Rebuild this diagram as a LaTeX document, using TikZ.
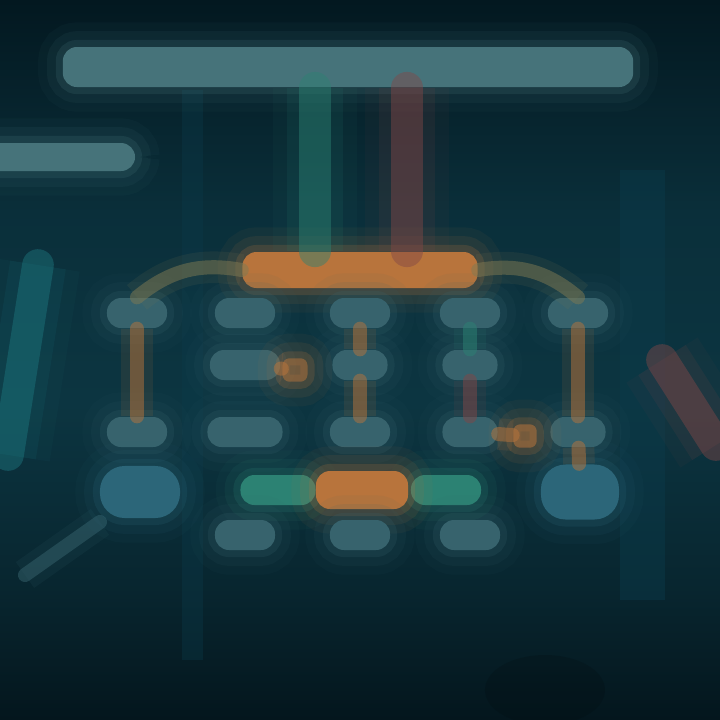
\documentclass[tikz,border=0pt]{standalone}
\usepackage[svgnames]{xcolor}
\usepackage{tikz}
\usetikzlibrary{calc}

\definecolor{bgtop}{HTML}{031820}
\definecolor{bgmid}{HTML}{0C3541}
\definecolor{bgbot}{HTML}{04161D}
\definecolor{titlecol}{HTML}{46737A}
\definecolor{cellcol}{HTML}{37636D}
\definecolor{bigcol}{HTML}{2C6679}
\definecolor{orangecol}{HTML}{B8743C}
\definecolor{greencol}{HTML}{2C8273}
\definecolor{redcol}{HTML}{824747}
\definecolor{tealcol}{HTML}{1D7880}
\definecolor{panelcol}{HTML}{0B3B4B}

\pgfdeclareverticalshading{bgshade}{100bp}{color(0bp)=(bgbot); color(25bp)=(bgbot);
  color(34bp)=(bgbot!50!bgmid); color(47bp)=(bgmid); color(60bp)=(bgmid!80!bgtop);
  color(75bp)=(bgtop); color(100bp)=(bgtop)}

\tikzset{
  glow/.style={fill=#1, draw=none, rounded corners=4pt,
    preaction={draw=#1, line width=14pt, draw opacity=0.06},
    preaction={draw=#1, line width=9pt, draw opacity=0.1},
    preaction={draw=#1, line width=4pt, draw opacity=0.2}},
  cell/.style={glow=cellcol, minimum width=0.6cm, minimum height=0.3cm},
  link/.style={draw=#1, line width=4pt, line cap=round, draw opacity=0.5,
    preaction={draw=#1, line width=9pt, draw opacity=0.12}},
  beam/.style={draw=#1, line width=9pt, line cap=round, draw opacity=0.45,
    preaction={draw=#1, line width=16pt, draw opacity=0.12},
    preaction={draw=#1, line width=24pt, draw opacity=0.06}},
}

\begin{document}
\begin{tikzpicture}[x=0.01cm, y=-0.01cm]
\useasboundingbox (0,0) rectangle (720,720);
\clip (0,0) rectangle (720,720);

% background
\shade[shading=bgshade] (0,0) rectangle (720,720);
\fill[panelcol, opacity=0.45] (620,170) rectangle (665,600);
\fill[panelcol, opacity=0.35] (182,90) rectangle (203,660);
\fill[black!60!bgbot, opacity=0.2] (545,690) ellipse (60 and 35);

% side glows
\coordinate (lt1) at (38,265);
\coordinate (lt2) at (8,455);
\draw[beam=tealcol] (lt1) -- (lt2);
\coordinate (rr1) at (662,360);
\coordinate (rr2) at (716,445);
\draw[beam=redcol] (rr1) -- (rr2);
\coordinate (bl1) at (25,575);
\coordinate (bl2) at (100,522);
\draw[link=cellcol] (bl1) -- (bl2);

% header
\node[glow=titlecol, minimum width=5.7cm, minimum height=0.4cm] (title) at (348,67) {};
\node[glow=titlecol, minimum width=1.6cm, minimum height=0.28cm] (side) at (55,157) {};

% top box
\node[glow=orangecol, minimum width=2.35cm, minimum height=0.36cm] (top) at (360,270) {};
\draw[beam=greencol] (title.south -| 315,0) -- (top.north -| 315,0);
\draw[beam=redcol] (title.south -| 407,0) -- (top.north -| 407,0);

% rows of cells
\node[cell] (c11) at (137,313) {};
\node[cell] (c12) at (245,313) {};
\node[cell] (c13) at (360,313) {};
\node[cell] (c14) at (470,313) {};
\node[cell] (c15) at (578,313) {};

\node[cell, minimum width=0.7cm] (c22) at (245,365) {};
\node[cell, minimum width=0.55cm] (c23) at (360,365) {};
\node[cell, minimum width=0.55cm] (c24) at (470,365) {};
\node[glow=orangecol, rounded corners=2pt, opacity=0.5, minimum width=0.25cm, minimum height=0.18cm] (o22) at (295,370) {};

\node[cell] (c31) at (137,432) {};
\node[cell, minimum width=0.75cm] (c32) at (245,432) {};
\node[cell] (c33) at (360,432) {};
\node[cell, minimum width=0.55cm] (c34) at (470,432) {};
\node[cell, minimum width=0.55cm] (c35) at (578,432) {};
\node[glow=orangecol, rounded corners=2pt, opacity=0.55, minimum width=0.22cm, minimum height=0.18cm] (o34) at (525,436) {};

\node[glow=bigcol, rounded corners=7pt, minimum width=0.8cm, minimum height=0.52cm] (c41) at (140,492) {};
\node[glow=greencol, minimum width=0.75cm, minimum height=0.3cm] (g1) at (278,490) {};
\node[glow=greencol, minimum width=0.7cm, minimum height=0.3cm] (g2) at (446,490) {};
\node[glow=orangecol, minimum width=0.92cm, minimum height=0.38cm] (mid) at (362,490) {};
\node[glow=bigcol, rounded corners=7pt, minimum width=0.78cm, minimum height=0.55cm] (c45) at (580,492) {};

\node[cell] (c52) at (245,535) {};
\node[cell] (c53) at (360,535) {};
\node[cell] (c54) at (470,535) {};

% connectors
\draw[link=orangecol!60!greencol] (top.west) to[bend right=25] (c11.north);
\draw[link=orangecol!60!greencol] (top.east) to[bend left=25] (c15.north);
\draw[link=orangecol] (c11) -- (c31);
\draw[link=orangecol] (c13) -- (c23);
\draw[link=orangecol] (c23) -- (c33);
\draw[link=greencol] (c14) -- (c24);
\draw[link=redcol] (c24) -- (c34);
\draw[link=orangecol] (c15) -- (c35);
\draw[link=orangecol] (c35) -- (c45);
\draw[link=orangecol] (c22) -- (o22);
\draw[link=orangecol] (c34) -- (o34);
\end{tikzpicture}
\end{document}
